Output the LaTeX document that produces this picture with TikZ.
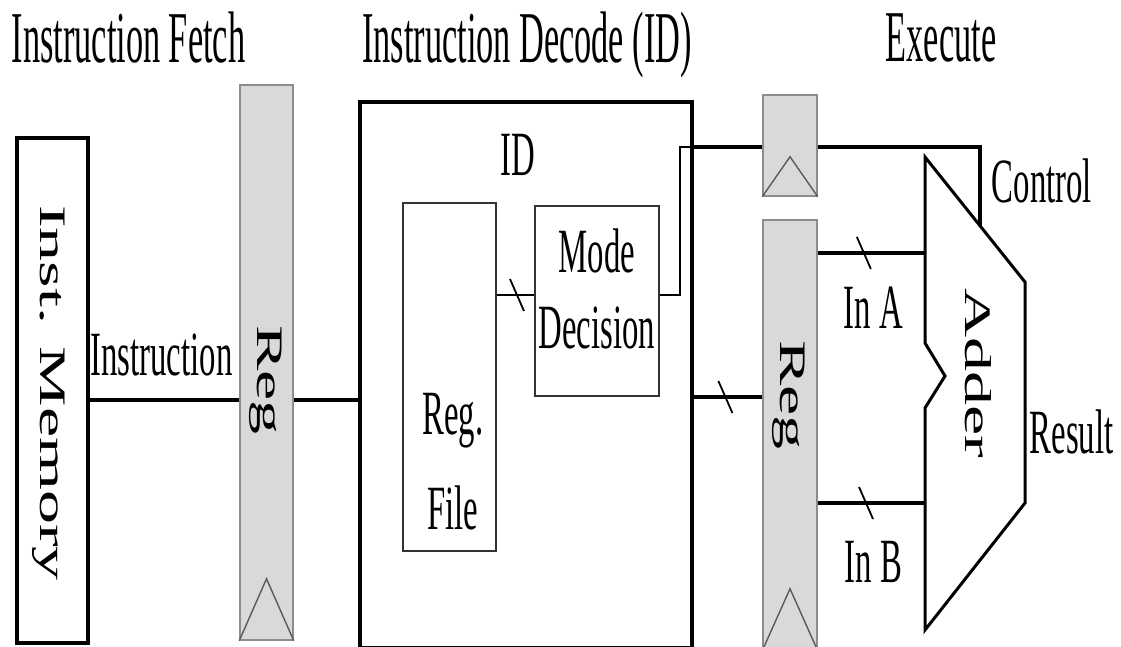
\documentclass[tikz,border=0pt]{standalone}
\usepackage{fontspec}
\setmainfont{Liberation Serif}
\newfontfamily\titlefont[FakeStretch=0.47]{Liberation Serif}
\newfontfamily\labelfont[FakeStretch=0.52]{Liberation Serif}
\usetikzlibrary{calc}
\definecolor{regfill}{HTML}{D9D9D9}
\definecolor{regedge}{HTML}{8C8C8C}
\definecolor{clockedge}{HTML}{5A5A5A}
\definecolor{unitedge}{HTML}{333333}
\tikzset{
  stagebox/.style={
    rectangle, draw=black, line width=4pt, inner sep=0pt
  },
  unitbox/.style={
    rectangle, draw=unitedge, line width=1.8pt, inner sep=0pt
  },
  pipereg/.style={
    rectangle, draw=regedge, fill=regfill, line width=1.5pt,
    inner sep=0pt, minimum width=54pt
  },
  wire/.style={line width=3.4pt},
  thinwire/.style={line width=1.8pt},
  stagetitle/.style={
    font=\titlefont\fontsize{73}{80}\selectfont, inner sep=0pt, anchor=base
  },
  sig/.style={
    font=\labelfont\fontsize{63}{76}\selectfont, inner sep=0pt, align=center
  },
  vlabel/.style={
    font=\fontsize{68}{70}\selectfont, inner sep=0pt, rotate=-90, yscale=0.55
  },
  busslash/.pic={\draw[thinwire] (-7,-16) -- (7,16);},
}

\begin{document}
\begin{tikzpicture}[x=1pt, y=-1pt]
  \useasboundingbox (0,0) rectangle (1121,647);
  \clip (0,0) rectangle (1121,647);

  % Stage titles
  \node[stagetitle] (tif) at (128.5,63) {Instruction Fetch};
  \node[stagetitle] (tid) at (527,63) {Instruction Decode (ID)};
  \node[stagetitle] (tex) at (941,62) {Execute};

  % Blocks
  \node[stagebox, minimum width=71pt, minimum height=505pt] (mem) at (52.5,390.5) {};
  \node[pipereg, minimum width=53pt, minimum height=555pt] (ifreg) at (266.5,362.5) {};
  \node[stagebox, minimum width=332pt, minimum height=546pt] (idbox) at (526,375) {};
  \node[unitbox, minimum width=93pt, minimum height=348pt] (regfile) at (449.5,377) {};
  \node[unitbox, minimum width=124pt, minimum height=190pt] (mode) at (597,301) {};
  \node[pipereg, minimum height=101pt] (ctrlreg) at (790,145.5) {};
  \node[pipereg, minimum height=430pt] (exreg) at (790,435) {};

  % Clock marks
  \foreach \r/\h in {ifreg/62, ctrlreg/40, exreg/62}
    \draw[clockedge, line width=1.4pt]
      (\r.south west) -- ($(\r.south)+(0,-\h)$) -- (\r.south east);

  % Adder outline
  \coordinate (addtl) at (925,157);
  \coordinate (addtr) at (1025,282);
  \coordinate (addbr) at (1025,503);
  \coordinate (addbl) at (925,630);
  \coordinate (addA) at (925,253);
  \coordinate (addB) at (925,503);
  \coordinate (addctl) at ($(addtl)!0.55!(addtr)$);
  \draw[line width=3pt, line join=miter] (addtl) -- (addtr) -- (addbr) -- (addbl)
    -- (925,408) -- (945,376) -- (925,343) -- cycle;

  % Block labels
  \node[vlabel] (memtext) at (49,393) {Inst. Memory};
  \node[vlabel] (ifregtext) at (266,380) {Reg};
  \node[vlabel] (exregtext) at (789,395) {Reg};
  \node[vlabel] (addtext) at (978,373) {Adder};
  \node[sig, anchor=base] (idtext) at (517.5,176) {ID};
  \node[sig, font=\labelfont\fontsize{63}{95}\selectfont] (rftext) at (453,462) {Reg.\\File};
  \node[sig] (modetext) at (597,288.5) {Mode\\Decision};

  % Connections
  \coordinate (busY) at (0,400);
  \coordinate (rfY) at (0,295);
  \coordinate (ctrlY) at (0,147);
  \coordinate (exY) at (0,397);
  \coordinate (ctrlturn) at (680,147);

  \draw[wire] (mem.east |- busY) -- (ifreg.west |- busY);
  \draw[wire] (ifreg.east |- busY) -- (idbox.west |- busY);
  \draw[thinwire] (regfile.east |- rfY) -- (mode.west |- rfY) pic[pos=0.54]{busslash};
  \draw[thinwire] (mode.east |- rfY) -| (ctrlturn) -- (idbox.east |- ctrlY);
  \draw[wire] (idbox.east |- ctrlY) -- (ctrlreg.west |- ctrlY);
  \draw[wire] (ctrlreg.east |- ctrlY) -| (addctl);
  \draw[wire] (idbox.east |- exY) -- (exreg.west |- exY) pic[pos=0.46]{busslash};
  \draw[wire] (exreg.east |- addA) -- (addA) pic[pos=0.43]{busslash};
  \draw[wire] (exreg.east |- addB) -- (addB) pic[pos=0.45]{busslash};

  % Signal labels
  \node[sig, anchor=base] (instrtext) at (161.5,375) {Instruction};
  \node[sig, anchor=base] (ctrltext) at (1042,203) {Control};
  \node[sig, anchor=base] (inatext) at (873.5,328) {In A};
  \node[sig, anchor=base] (inbtext) at (873.5,582) {In B};
  \node[sig, anchor=base] (restext) at (1071.5,453) {Result};
\end{tikzpicture}
\end{document}
